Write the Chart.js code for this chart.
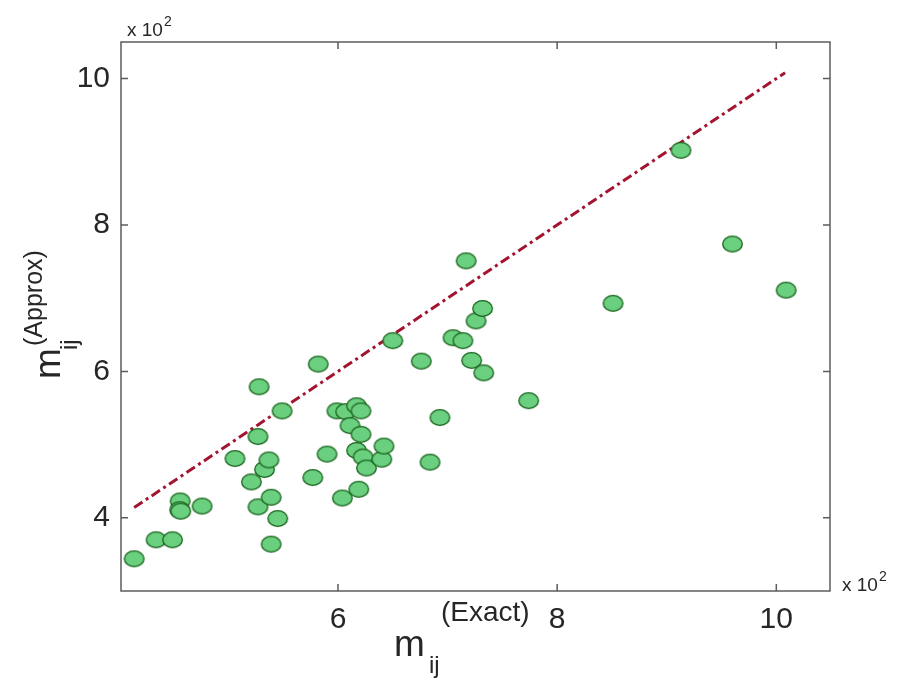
<!DOCTYPE html>
<html>
<head>
<meta charset="utf-8">
<script src="https://cdn.jsdelivr.net/npm/chart.js@4/dist/chart.umd.min.js"></script>
<style>
  html, body { margin: 0; padding: 0; background: #fff; }
  canvas { display: block; }
</style>
</head>
<body>
<canvas id="scatter" width="913" height="689"></canvas>
<script>
// m_ij values (real units, axes show them in hundreds)
const exactVals = [414, 434, 449, 456, 455.5, 456.5, 476, 506, 521, 527, 527, 528, 533, 537, 539, 539, 545, 549,
  577, 582, 590, 599, 604, 607, 611, 617, 621, 621, 617, 623, 626, 619, 640, 642, 650, 676, 684, 693,
  705, 714, 717, 722, 726, 732, 733, 774, 851, 913, 960, 1009];
const approxVals = [344, 370, 370, 423, 411, 409, 416, 481, 449, 415, 511, 579, 466, 479, 428, 364, 399, 546,
  455, 610, 487, 546, 427, 545, 526, 553, 546, 514, 492, 483, 468, 439, 480, 498, 642, 614, 476, 537,
  646, 642, 751, 615, 669, 686, 598, 560, 693, 902, 774, 711];
// reference line m_approx = m_exact
const refLine = [414, 1008];
const xTicks = [400, 600, 800, 1000];
const yTicks = [400, 600, 800, 1000];

const FONT = "'Liberation Sans', Arial, Helvetica, sans-serif";
const AXIS_GRAY = "#5c5c5c";
const TEXT = "#262626";

// ellipse marker (the source figure stretches circles horizontally)
function ellipseMarker(){
  const c = document.createElement("canvas");
  c.width = 23; c.height = 19;
  const g = c.getContext("2d");
  g.beginPath();
  g.ellipse(11.5, 9.5, 9.8, 7.8, 0, 0, Math.PI * 2);
  g.fillStyle = "#6acf7e";
  g.fill();
  g.lineWidth = 1.3;
  g.strokeStyle = "#17631b";
  g.stroke();
  return c;
}

function drawMathLabel(ctx, mPos, subPos, supPos, sup){
  ctx.fillStyle = TEXT;
  ctx.textBaseline = "alphabetic";
  ctx.textAlign = "left";
  ctx.font = "37px " + FONT;
  ctx.fillText("m", mPos[0], mPos[1]);
  ctx.font = "24px " + FONT;
  ctx.fillText("ij", subPos[0], subPos[1]);
  ctx.font = sup.size + "px " + FONT;
  ctx.fillText(sup.text, supPos[0], supPos[1]);
}

function drawExponent(ctx, x, y){
  ctx.fillStyle = TEXT;
  ctx.textAlign = "left";
  ctx.textBaseline = "alphabetic";
  ctx.font = "19px " + FONT;
  ctx.fillText("x 10", x, y);
  const w = ctx.measureText("x 10").width;
  ctx.font = "14px " + FONT;
  ctx.fillText("2", w + x + 1, y - 10);
}

const framePlugin = {
  id: "matlabFrame",
  afterDraw(chart){
    const { ctx, chartArea: a, scales } = chart;
    ctx.save();
    ctx.strokeStyle = AXIS_GRAY;
    ctx.lineWidth = 1.5;
    ctx.strokeRect(a.left, a.top, a.right - a.left, a.bottom - a.top);
    const len = 7;
    ctx.beginPath();
    xTicks.forEach(v => {
      if (v <= scales.x.min || v >= scales.x.max) return;
      const px = scales.x.getPixelForValue(v);
      ctx.moveTo(px, a.bottom); ctx.lineTo(px, a.bottom - len);
      ctx.moveTo(px, a.top); ctx.lineTo(px, a.top + len);
    });
    yTicks.forEach(v => {
      if (v <= scales.y.min || v >= scales.y.max) return;
      const py = scales.y.getPixelForValue(v);
      ctx.moveTo(a.left, py); ctx.lineTo(a.left + len, py);
      ctx.moveTo(a.right, py); ctx.lineTo(a.right - len, py);
    });
    ctx.stroke();

    drawExponent(ctx, 127, 36);
    drawExponent(ctx, 842, 591);

    // x label: m_ij^(Exact)
    drawMathLabel(ctx, [394, 656], [429, 673], [441, 621], { text: "(Exact)", size: 28 });

    // y label: m_ij^(Approx), rotated
    ctx.save();
    ctx.translate(60, 379);
    ctx.rotate(-Math.PI / 2);
    drawMathLabel(ctx, [0, 0], [29, 17], [33, -18], { text: "(Approx)", size: 25 });
    ctx.restore();
    ctx.restore();
  }
};

const marker = ellipseMarker();

new Chart(document.getElementById("scatter"), {
  type: "scatter",
  data: {
    datasets: [
      {
        label: "pairs",
        data: exactVals.map((x, i) => ({ x, y: approxVals[i] })),
        pointStyle: marker,
        pointRadius: 10,
        pointHoverRadius: 10,
      },
      {
        type: "line",
        label: "y = x",
        data: refLine.map(v => ({ x: v, y: v })),
        borderColor: "#a2142f",
        borderWidth: 3,
        borderDash: [10, 4, 3, 4],
        pointRadius: 0,
        fill: false,
      },
    ],
  },
  options: {
    responsive: false,
    animation: false,
    devicePixelRatio: 1,
    layout: { padding: { left: 0, right: 83, top: 42, bottom: 0 } },
    plugins: { legend: { display: false }, tooltip: { enabled: false } },
    scales: {
      x: {
        type: "linear",
        min: 402,
        max: 1049,
        afterFit: s => { s.height = 98; },
        afterBuildTicks: s => { s.ticks = xTicks.filter(v => v > s.min && v < s.max).map(value => ({ value })); },
        grid: { display: false, drawTicks: false },
        border: { display: false },
        ticks: {
          color: TEXT,
          padding: 11,
          maxRotation: 0,
          font: { family: FONT, size: 30 },
          callback: v => String(v / 100),
        },
      },
      y: {
        type: "linear",
        min: 300,
        max: 1050,
        afterFit: s => { s.width = 121; },
        afterBuildTicks: s => { s.ticks = yTicks.filter(v => v > s.min && v < s.max).map(value => ({ value })); },
        grid: { display: false, drawTicks: false },
        border: { display: false },
        ticks: {
          color: TEXT,
          padding: 11,
          font: { family: FONT, size: 30 },
          callback: v => String(v / 100),
        },
      },
    },
  },
  plugins: [framePlugin],
});
</script>
</body>
</html>
